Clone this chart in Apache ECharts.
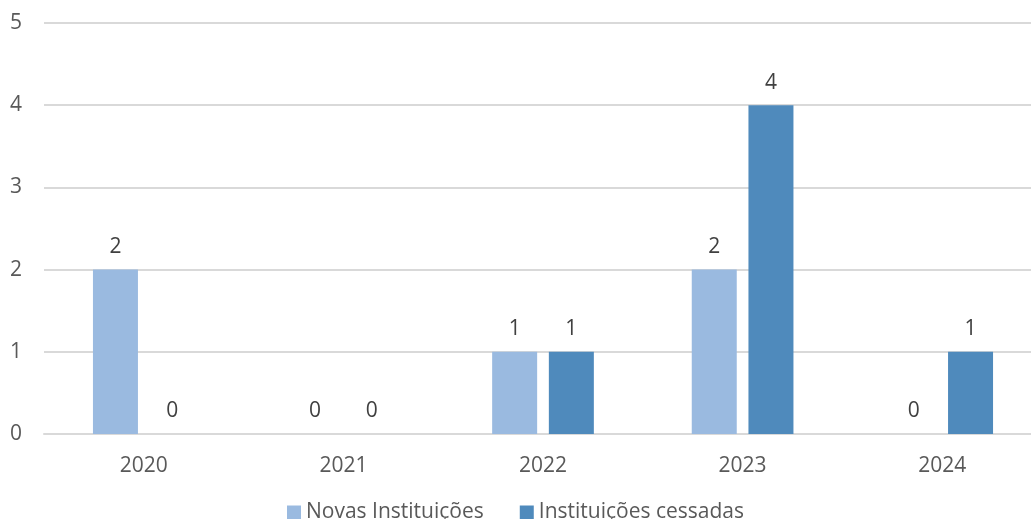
<!DOCTYPE html>
<html>
<head>
<meta charset="utf-8">
<style>
html, body { margin: 0; padding: 0; background: #fff; }
#chart { width: 1031px; height: 519px; }
</style>
<script src="https://cdn.jsdelivr.net/npm/echarts@6/dist/echarts.min.js"></script>
</head>
<body>
<div id="chart"></div>
<script>
// anos
var years = ["2020", "2021", "2022", "2023", "2024"];
// valores por série
var novas = [2, 0, 1, 2, 0];
var cessadas = [0, 0, 1, 4, 1];
var yTicks = { min: 0, max: 5, interval: 1 };

var fontFamily = "'Open Sans', sans-serif";

var myChart = echarts.init(document.getElementById("chart"));

var labelStyle = {
  show: true,
  position: "top",
  distance: 12,
  color: "#404040",
  fontSize: 21,
  fontFamily: fontFamily
};

var option = {
  animation: false,
  // a grelha passa um pouco da borda direita, como no original
  grid: { left: 44, right: -11, top: 23, bottom: 85, outerBoundsMode: "none", containLabel: false },
  legend: {
    bottom: -9,
    left: "center",
    itemWidth: 14,
    itemHeight: 14,
    itemGap: 36,
    icon: "rect",
    textStyle: { color: "#595959", fontSize: 21, fontFamily: fontFamily },
    data: ["Novas Instituições", "Instituições cessadas"]
  },
  xAxis: {
    type: "category",
    data: years,
    axisTick: { show: false },
    axisLine: { lineStyle: { color: "#d9d9d9", width: 2 } },
    axisLabel: { color: "#595959", fontSize: 21, fontFamily: fontFamily, margin: 22 }
  },
  yAxis: {
    type: "value",
    min: yTicks.min,
    max: yTicks.max,
    interval: yTicks.interval,
    axisLine: { show: false },
    axisTick: { show: false },
    splitLine: { lineStyle: { color: "#d9d9d9", width: 2 } },
    axisLabel: { color: "#595959", fontSize: 21, fontFamily: fontFamily, margin: 22 }
  },
  series: [
    {
      name: "Novas Instituições",
      type: "bar",
      data: novas,
      barWidth: 45,
      barGap: "26%",
      itemStyle: { color: "#9abae0" },
      label: labelStyle
    },
    {
      name: "Instituições cessadas",
      type: "bar",
      data: cessadas,
      barWidth: 45,
      itemStyle: { color: "#4f8abc" },
      label: labelStyle
    }
  ]
};

myChart.setOption(option);
</script>
</body>
</html>
